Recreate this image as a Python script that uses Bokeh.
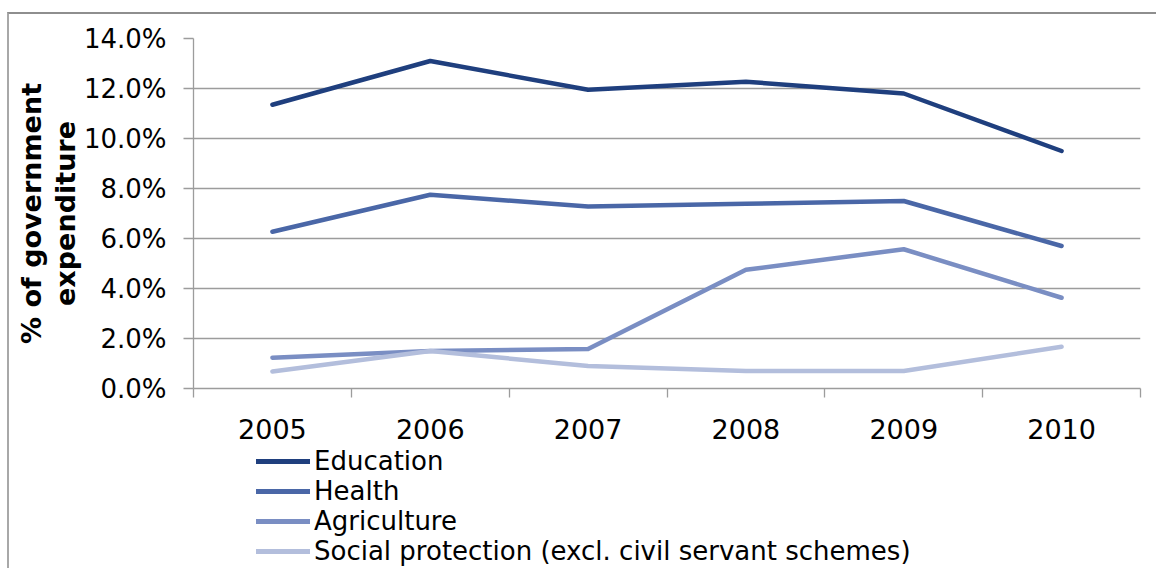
from bokeh.plotting import figure
from bokeh.layouts import column
from bokeh.models import FixedTicker, PrintfTickFormatter, Legend, LegendItem
from bokeh.embed import file_html
from bokeh.resources import INLINE

# Share of government expenditure by sector (%)
years = [2005, 2006, 2007, 2008, 2009, 2010]
education = [11.35, 13.1, 11.95, 12.27, 11.8, 9.5]
health = [6.27, 7.75, 7.28, 7.39, 7.5, 5.7]
agriculture = [1.23, 1.5, 1.58, 4.75, 5.57, 3.63]
social_protection = [0.68, 1.5, 0.9, 0.7, 0.7, 1.67]

series_names = [
    "Education",
    "Health",
    "Agriculture",
    "Social protection (excl. civil servant schemes)",
]
series_values = [education, health, agriculture, social_protection]
y_ticks = [0, 2, 4, 6, 8, 10, 12, 14]
axis_title = "% of government\nexpenditure"

colors = ["#1f3f7e", "#4a67a7", "#7a8ec3", "#b3bedc"]
grey = "#9c9c9c"
font = "DejaVu Sans"

# ---- main chart ----
p = figure(
    width=1147, height=430,
    x_range=(years[0] - 0.5, years[-1] + 0.5), y_range=(y_ticks[0], y_ticks[-1]),
    output_backend="svg", toolbar_location=None,
    min_border_left=184, min_border_right=16, min_border_top=24, min_border_bottom=56,
    outline_line_color=None, background_fill_color="white", border_fill_color="white",
)

# horizontal gridlines only
p.xgrid.visible = False
p.ygrid.grid_line_color = grey
p.ygrid.grid_line_width = 1.3
p.ygrid.ticker = FixedTicker(ticks=y_ticks)

# x axis: year labels at centres, tick marks between categories
xa = p.xaxis[0]
xa.ticker = FixedTicker(ticks=years, minor_ticks=[y - 0.5 for y in years] + [years[-1] + 0.5])
xa.major_tick_out = 0
xa.major_tick_in = 0
xa.minor_tick_out = 9
xa.minor_tick_in = 0
xa.minor_tick_line_color = grey
xa.minor_tick_line_width = 1.3
xa.axis_line_color = grey
xa.axis_line_width = 1.3
xa.major_label_standoff = 21
xa.major_label_text_font = font
xa.major_label_text_font_size = "27px"
xa.major_label_text_color = "black"

# y axis: percentages, with a bold two-line title
ya = p.yaxis[0]
ya.ticker = FixedTicker(ticks=y_ticks)
ya.formatter = PrintfTickFormatter(format="%.1f%%")
ya.major_tick_out = 10
ya.major_tick_in = 0
ya.minor_tick_line_color = None
ya.major_tick_line_color = grey
ya.major_tick_line_width = 1.3
ya.axis_line_color = grey
ya.axis_line_width = 1.3
ya.major_label_standoff = 17
ya.major_label_text_font = font
ya.major_label_text_font_size = "26px"
ya.major_label_text_color = "black"
ya.axis_label = axis_title
ya.axis_label_standoff = 0
ya.axis_label_text_font = font
ya.axis_label_text_font_size = "27px"
ya.axis_label_text_font_style = "bold"
ya.axis_label_text_color = "black"
ya.axis_label_text_line_height = 1.1

for vals, col in zip(series_values, colors):
    p.line(years, vals, line_color=col, line_width=4.5,
           line_cap="round", line_join="round")

# ---- legend strip below the chart ----
# key renderers reuse the series but sit outside this strip's visible range
lg = figure(
    width=1147, height=124,
    x_range=(0, 1), y_range=(0, 1),
    output_backend="svg", toolbar_location=None,
    x_axis_location=None, y_axis_location=None,
    min_border=0, outline_line_color=None,
    background_fill_color="white", border_fill_color="white",
)
lg.grid.visible = False
keys = [lg.line(years, vals, line_color=col, line_width=5, line_cap="round")
        for vals, col in zip(series_values, colors)]

legend = Legend(
    items=[LegendItem(label=n, renderers=[r]) for n, r in zip(series_names, keys)],
    location=(63, 2),
    orientation="vertical",
    padding=0, margin=0, spacing=0,
    glyph_width=54, glyph_height=28, label_height=28, label_standoff=4,
    label_text_font=font, label_text_font_size="26px", label_text_color="black",
    border_line_color=None, background_fill_alpha=0,
)
lg.add_layout(legend, "center")

page = column(
    p, lg, spacing=0,
    margin=(12, 0, 0, 7),
    styles={"border-top": "2px solid #8e8e8e", "border-left": "2px solid #a8a8a8"},
)

open("out.html", "w").write(file_html(page, INLINE))
